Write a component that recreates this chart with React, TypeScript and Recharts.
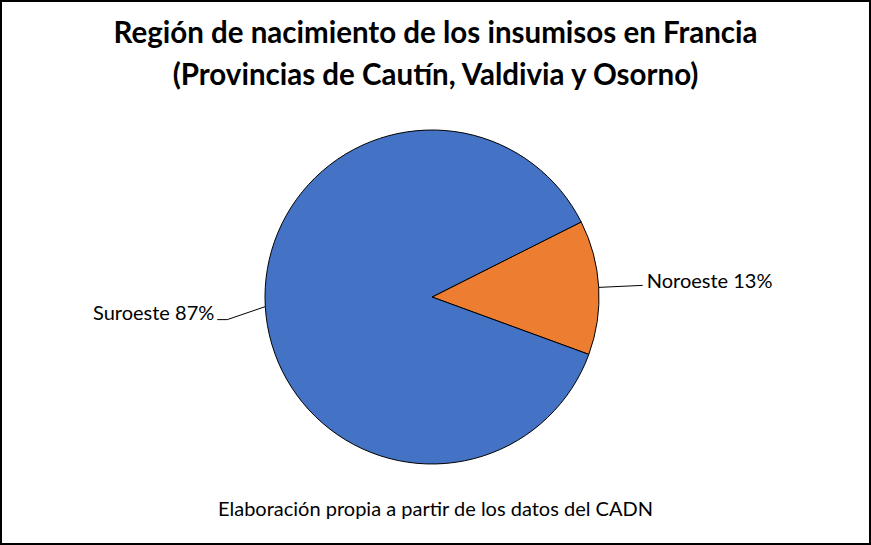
import { PieChart, Pie, Cell } from "recharts";

const regions = ["Noroeste", "Suroeste"];
const shares = [13, 87];
const COLORS = ["#ED7D31", "#4472C4"];

const data = regions.map((name, i) => ({ name, value: shares[i] }));

const FONT = "Lato, 'Open Sans', sans-serif";
const RAD = Math.PI / 180;

function renderLabel(props: any) {
  const { cx, cy, midAngle, outerRadius, name, value } = props;
  const cos = Math.cos(-midAngle * RAD);
  const sin = Math.sin(-midAngle * RAD);
  const sx = cx + outerRadius * cos;
  const sy = cy + outerRadius * sin;
  const right = cos >= 0;
  const ex = right ? sx + 44 : sx - 38;
  const ey = right ? sy - 2 : sy + 13;
  const hx = right ? ex : sx - 48;
  const tx = right ? ex + 4 : hx - 3;
  return (
    <g>
      <polyline
        points={`${sx},${sy} ${ex},${ey} ${hx},${ey}`}
        fill="none"
        stroke="#000"
        strokeWidth={1}
      />
      <text
        x={tx}
        y={right ? ey - 5 : ey - 8}
        textAnchor={right ? "start" : "end"}
        dominantBaseline="central"
        fontFamily={FONT}
        fontSize={20}
        fill="#000"
      >
        {`${name} ${value}%`}
      </text>
    </g>
  );
}

export default function App() {
  return (
    <div
      style={{
        position: "absolute",
        left: 0,
        top: 0,
        width: 871,
        height: 545,
        boxSizing: "border-box",
        border: "2px solid #000",
        background: "#fff",
        fontFamily: FONT,
      }}
    >
      <div
        style={{
          position: "absolute",
          left: 0,
          right: 0,
          top: 9,
          textAlign: "center",
          fontWeight: 700,
          fontSize: 29.5,
          lineHeight: "42px",
          color: "#000",
        }}
      >
        Región de nacimiento de los insumisos en Francia
        <br />
        (Provincias de Cautín, Valdivia y Osorno)
      </div>
      <div style={{ position: "absolute", left: -2, top: -2 }}>
        <PieChart
          width={871}
          height={545}
          margin={{ top: 0, right: 0, bottom: 0, left: 0 }}
        >
          <Pie
            data={data}
            dataKey="value"
            nameKey="name"
            cx={432}
            cy={297}
            outerRadius={167}
            startAngle={26.7}
            endAngle={26.7 - 360}
            stroke="#000"
            strokeWidth={1}
            label={renderLabel}
            labelLine={false}
            isAnimationActive={false}
          >
            {data.map((entry, index) => (
              <Cell key={`cell-${index}`} fill={COLORS[index % COLORS.length]} />
            ))}
          </Pie>
        </PieChart>
      </div>
      <div
        style={{
          position: "absolute",
          left: 0,
          right: 0,
          top: 494,
          textAlign: "center",
          fontSize: 20,
          color: "#000",
        }}
      >
        Elaboración propia a partir de los datos del CADN
      </div>
    </div>
  );
}
